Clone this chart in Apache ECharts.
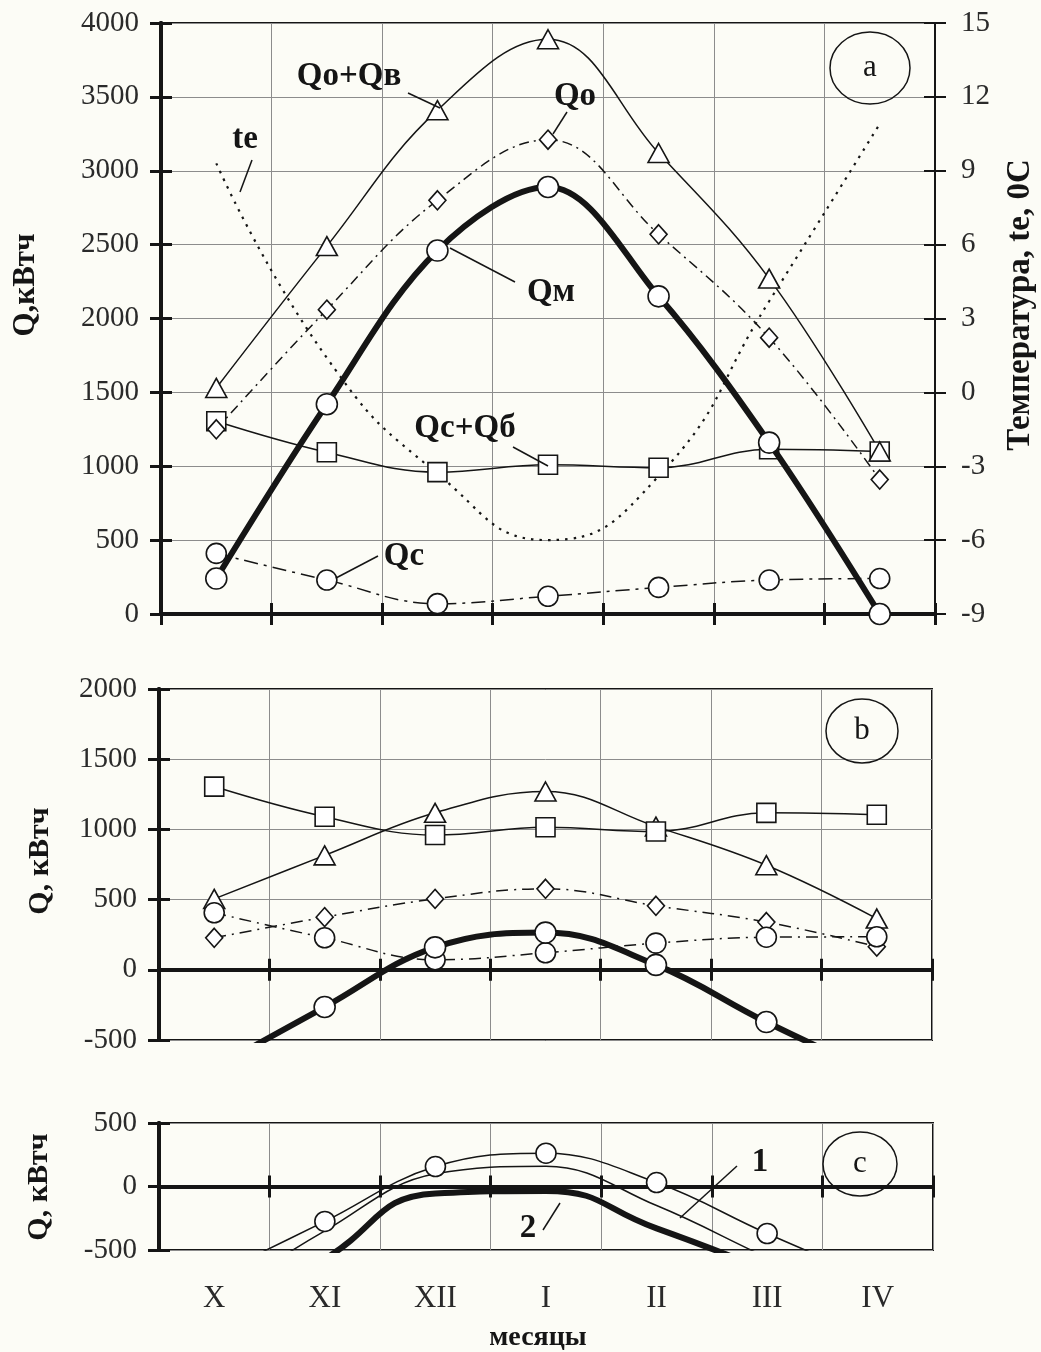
<!DOCTYPE html>
<html><head><meta charset="utf-8">
<script src="https://cdn.jsdelivr.net/npm/echarts@6/dist/echarts.min.js"></script>
<style>html,body{margin:0;padding:0;background:#fcfcf6}#c{width:1041px;height:1352px}</style>
</head><body><div id="c"></div>
<script>
// ---- data ----
const months = ['X','XI','XII','I','II','III','IV'];
const yTicksA = [0, 4000, 500];
const tTicksA = [-9, 15, 3];
const yTicksB = [-500, 2000, 500];
const yTicksC = [-500, 500, 500];

// panel a
const a_QoQv = [1530, 2490, 3410, 3890, 3120, 2270, 1100];
const a_Qo   = [1250, 2060, 2800, 3210, 2570, 1870, 910];
const a_Qm   = [240, 1420, 2460, 2890, 2150, 1160, 0];
const a_QcQb = [1305, 1095, 960, 1010, 990, 1115, 1100];
const a_Qc   = [410, 230, 70, 120, 180, 230, 240];
const a_te   = [9.3, 1.4, -3.3, -6.0, -3.4, 3.7, 10.9];

// panel b
const b_QcQb = [1305, 1090, 960, 1015, 985, 1118, 1104];
const b_tri  = [505, 815, 1118, 1270, 1020, 745, 365];
const b_dia  = [228, 375, 505, 577, 456, 340, 165];
const b_Qc   = [406, 228, 71, 121, 190, 232, 235];
const b_Qm   = [-700, -265, 160, 265, 35, -372, -740];

// panel c
const c_1   = [-700, -275, 157, 262, 31, -370, -740];
const c_mid = [-900, -350, 100, 160, -150, -560, -950];
const c_2   = [-1100, -570, -55, -35, -330, -660, -1000];

// ---- styling ----
const SERIF = '"Liberation Serif","Times New Roman",serif';
const INK = '#151515';
const GRIDC = '#8c8c8c';

const grids = [
  {left:161, top:23, width:774, height:591},
  {left:159, top:689, width:773, height:351},
  {left:159, top:1123, width:774, height:127}
].map(g => Object.assign({show:true, borderColor:INK, borderWidth:2, backgroundColor:'transparent', containLabel:false}, g));

function xAx(g, inside, onZero, extra) {
  return Object.assign({
    type:'category', gridIndex:g, data:months, boundaryGap:true, position:'bottom',
    axisLine:{show:true, onZero:onZero, lineStyle:{color:INK, width:4}},
    axisTick:{show:true, inside:inside, length:11, interval:0, alignWithLabel:false, lineStyle:{color:INK, width:3}},
    axisLabel:{show:false},
    splitLine:{show:inside, interval:0, lineStyle:{color:GRIDC, width:1}}
  }, extra || {});
}
function yAx(g, pos, inside, ticks, lw, showLabel, split) {
  return {
    type:'value', gridIndex:g, position:pos, min:ticks[0], max:ticks[1], interval:ticks[2],
    axisLine:{show:true, onZero:false, lineStyle:{color:INK, width:lw}},
    axisTick:{show:true, inside:inside, length:11, lineStyle:{color:INK, width:lw === 4 ? 3 : 2}},
    axisLabel:{show:showLabel, fontFamily:SERIF, fontSize:29, color:'#2a2a2a',
      margin:pos === 'left' ? 22 : 26, formatter:v => String(v)},
    splitLine:{show:split, lineStyle:{color:GRIDC, width:1}}
  };
}

const xAxes = [
  xAx(0, true, false), xAx(0, false, false),
  xAx(1, true, true), xAx(1, false, true),
  xAx(2, true, true), xAx(2, false, true),
  xAx(2, false, false, {
    axisLine:{show:false, onZero:false}, axisTick:{show:false}, splitLine:{show:false},
    axisLabel:{show:true, interval:0, fontFamily:SERIF, fontSize:31, color:'#2a2a2a', margin:33}
  })
];
const yAxes = [
  yAx(0, 'left', false, yTicksA, 4, true, true),
  yAx(0, 'left', true, yTicksA, 4, false, false),
  yAx(0, 'right', false, tTicksA, 2, true, false),
  yAx(0, 'right', true, tTicksA, 2, false, false),
  yAx(1, 'left', false, yTicksB, 4, true, true),
  yAx(1, 'left', true, yTicksB, 4, false, false),
  yAx(2, 'left', false, yTicksC, 4, true, true),
  yAx(2, 'left', true, yTicksC, 4, false, false)
];
// explicit zero references for the on-zero x axes
xAxes[2].axisLine.onZeroAxisIndex = 4; xAxes[3].axisLine.onZeroAxisIndex = 4;
xAxes[4].axisLine.onZeroAxisIndex = 6; xAxes[5].axisLine.onZeroAxisIndex = 6;

const MK = {color:'#fff', borderColor:INK, borderWidth:1.6};
function ln(data, xi, yi, o) {
  return {
    type:'line', data:data, xAxisIndex:xi, yAxisIndex:yi,
    smooth:o.smooth === undefined ? 0.4 : o.smooth,
    symbol:o.symbol || 'none', symbolSize:o.size || 20, showSymbol:!!o.symbol,
    itemStyle:MK, clip:true, z:o.z || 3,
    lineStyle:{color:INK, width:o.w || 1.5, type:o.dash || 'solid'},
    emphasis:{disabled:true}, silent:true, animation:false
  };
}
const series = [
  // panel a
  ln(a_te, 0, 2, {w:2.2, dash:[2.5,6], smooth:0.5, z:2}),
  ln(a_Qc, 0, 0, {symbol:'circle', size:20, dash:[14,6,3,6]}),
  ln(a_QcQb, 0, 0, {symbol:'rect', size:19}),
  ln(a_Qo, 0, 0, {symbol:'diamond', size:[17,19], dash:[10,5,2,5]}),
  ln(a_QoQv, 0, 0, {symbol:'triangle', size:[21,19]}),
  ln(a_Qm, 0, 0, {symbol:'circle', size:21, w:6, smooth:0.35, z:4}),
  // panel b
  ln(b_tri, 2, 4, {symbol:'triangle', size:[21,19]}),
  ln(b_QcQb, 2, 4, {symbol:'rect', size:19}),
  ln(b_dia, 2, 4, {symbol:'diamond', size:[17,19], dash:[12,6,2,6]}),
  ln(b_Qc, 2, 4, {symbol:'circle', size:20, dash:[12,6,2,6]}),
  ln(b_Qm, 2, 4, {symbol:'circle', size:21, w:6, z:4}),
  // panel c
  ln(c_2, 4, 6, {w:6, smooth:0.5}),
  ln(c_mid, 4, 6, {w:1.5}),
  ln(c_1, 4, 6, {symbol:'circle', size:20, w:1.5, z:4})
];

// ---- annotations (text labels, leaders, circled letters) ----
const labels = [
  {t:'Qo+Qв', x:349, y:76, s:33},
  {t:'Qo', x:575, y:96, s:33},
  {t:'te', x:245, y:139, s:33},
  {t:'Qм', x:551, y:292, s:33},
  {t:'Qc+Qб', x:465, y:428, s:33},
  {t:'Qc', x:404, y:556, s:33},
  {t:'1', x:760, y:1162, s:33},
  {t:'2', x:528, y:1228, s:33}
];
const leaders = [
  [408,93,440,108], [567,112,553,134], [252,160,240,192], [450,248,515,282],
  [513,447,548,466], [336,578,378,556], [680,1218,737,1166], [543,1230,560,1203]
];
const circled = [
  {t:'a', cx:870, cy:68, rx:40, ry:36},
  {t:'b', cx:862, cy:731, rx:36, ry:32},
  {t:'c', cx:860, cy:1164, rx:37, ry:32}
];
const axisNames = [
  {t:'Q,кВтч', x:26, y:285, s:31},
  {t:'Q, кВтч', x:40, y:861, s:30},
  {t:'Q, кВтч', x:39, y:1187, s:30},
  {t:'Температура, te, 0C', x:1020, y:305, s:33}
];

const graphic = [];
labels.forEach(l => graphic.push({type:'text', x:l.x, y:l.y, z:50, silent:true,
  style:{text:l.t, font:'bold ' + l.s + 'px ' + SERIF, fill:INK, textAlign:'center', textVerticalAlign:'middle'}}));
leaders.forEach(p => graphic.push({type:'line', z:50, silent:true,
  shape:{x1:p[0], y1:p[1], x2:p[2], y2:p[3]}, style:{stroke:INK, lineWidth:1.5}}));
circled.forEach(c => {
  graphic.push({type:'ellipse', z:50, silent:true, shape:{cx:c.cx, cy:c.cy, rx:c.rx, ry:c.ry},
    style:{fill:'rgba(0,0,0,0)', stroke:INK, lineWidth:1.5}});
  graphic.push({type:'text', x:c.cx, y:c.cy, z:51, silent:true,
    style:{text:c.t, font:'31px ' + SERIF, fill:INK, textAlign:'center', textVerticalAlign:'middle'}});
});
axisNames.forEach(a => graphic.push({type:'text', x:a.x, y:a.y, rotation:Math.PI/2, z:50, silent:true,
  style:{text:a.t, font:'bold ' + a.s + 'px ' + SERIF, fill:INK, textAlign:'center', textVerticalAlign:'middle'}}));
graphic.push({type:'text', x:538, y:1338, z:50, silent:true,
  style:{text:'месяцы', font:'bold 28px ' + SERIF, fill:INK, textAlign:'center', textVerticalAlign:'middle'}});

const chart = echarts.init(document.getElementById('c'));
chart.setOption({
  backgroundColor:'#fcfcf6',
  animation:false,
  grid:grids, xAxis:xAxes, yAxis:yAxes, series:series, graphic:graphic
});
</script>
</body></html>
